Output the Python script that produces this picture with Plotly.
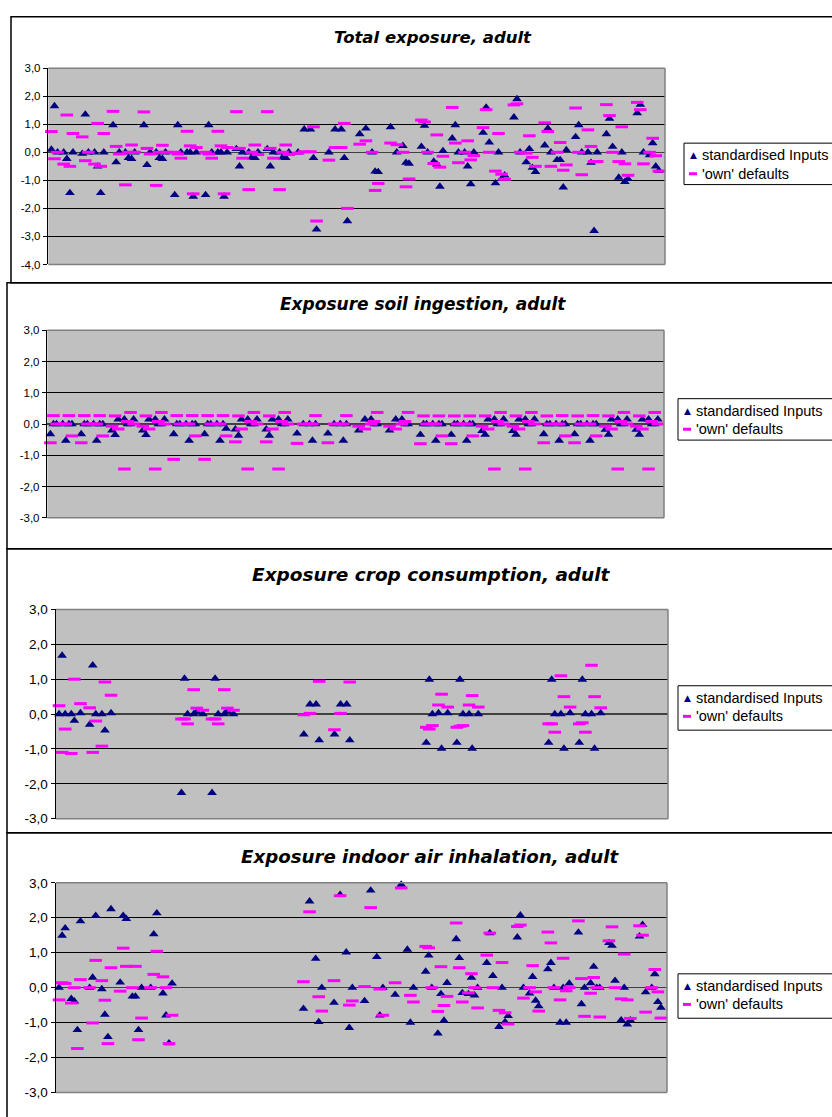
import plotly.graph_objects as go

W, H = 832, 1117
NAVY = "#000080"
MAG = "#FF00FF"

# ---------------- data ----------------
# run index (position along the category axis): 20 blocks of 10 positions
case = [0, 1, 2, 4, 5, 6, 7, 10, 11, 12, 14, 15, 16, 17,
        20, 21, 22, 24, 25, 26, 27, 30, 31, 32, 34, 35, 36, 37,
        40, 41, 42, 44, 45, 46, 47, 50, 51, 52, 54, 55, 56, 57,
        60, 61, 62, 64, 65, 66, 67, 70, 71, 72, 74, 75, 76, 77,
        80, 82, 84, 85, 86, 90, 92, 94, 95, 96,
        100, 102, 104, 105, 106, 110, 112, 114, 115, 116,
        120, 121, 122, 124, 125, 126, 127, 130, 131, 132, 134, 135, 136, 137,
        140, 141, 142, 144, 145, 146, 147, 150, 151, 152, 154, 155, 156, 157,
        160, 161, 162, 164, 165, 166, 167, 170, 171, 172, 174, 175, 176, 177,
        180, 181, 182, 184, 185, 186, 187, 190, 191, 192, 194, 195, 196, 197]

total_std = [0.1, 1.65, 0, 0, -0.23, -1.45, 0, -0.05, 1.35, 0, 0, -0.5, -1.45, 0,
             0.97, -0.35, 0, 0, -0.2, -0.23, 0, 0.97, -0.45, 0, 0, -0.2, -0.23, 0,
             -1.52, 0.97, 0, 0, 0, -1.58, 0, -1.52, 0.97, 0, 0, 0, -1.58, 0,
             0.12, -0.5, 0, 0, -0.18, -0.2, 0, 0.12, -0.5, 0, 0, -0.18, -0.2, 0,
             0, 0.82, 0.82, -0.2, -2.75, 0, 0.82, 0.82, -0.2, -2.45,
             0.65, 0.85, 0, -0.68, -0.7, 0.9, 0, 0.23, -0.37, -0.4,
             0.2, 0.95, 0, -0.33, -0.43, -1.22, 0.05, 0.5, 0.97, 0, 0, -0.5, -1.13, 0,
             0.7, 1.6, 0.35, -1.1, 0, -0.95, -0.82, 1.25, 1.9, 0, -0.35, 0.12, -0.55, -0.7,
             0.25, 0.85, 0, -0.27, -0.27, -1.25, 0.08, 0.55, 0.97, 0, 0, -0.37, -2.8, 0,
             0.65, 1.2, 0.2, -0.9, 0, -1.05, -0.95, 1.4, 1.7, 0, -0.1, 0.33, -0.5, -0.65]
total_own = [0.74, -0.23, 0, -0.42, 1.33, -0.5, 0.67, 0.55, -0.3, 0, -0.42, 1.03, -0.5, 0.67,
             1.46, 0.21, -0.06, -1.16, 0, 0.26, 0, 1.44, 0.14, -0.06, -1.18, 0, 0.25, 0,
             0, -0.06, -0.21, 0.75, 0.23, -1.48, 0.17, 0, -0.06, -0.21, 0.75, 0.23, -1.48, 0.17,
             1.45, 0.14, -0.21, -1.33, 0, 0.26, -0.08, 1.45, 0.14, -0.21, -1.33, 0, 0.26, -0.08,
             -0.03, 0.02, 0.02, 0.91, -2.45, -0.28, 0.17, 0.17, 1.03, -2.0,
             0.29, 0.41, 0, -1.36, -1.11, 0.33, 0.27, 0, -1.23, -0.95,
             1.15, 1.08, 0, -0.4, 0.62, -0.53, -0.14, 1.6, 0.33, -0.37, 0, 0.41, -0.27, -0.12,
             0.88, 1.52, 0, -0.67, 0.67, -0.78, -0.96, 1.69, 1.73, 0, -0.03, 0.59, -0.18, -0.5,
             1.05, 0.74, -0.5, 0, 0.35, -0.64, -0.45, 1.58, 0, -0.8, 0.8, 0.21, -0.33, -0.33,
             1.7, 1.31, 0, -0.33, 0.91, -0.41, -0.82, 1.78, 1.52, -0.41, 0, 0.5, -0.12, -0.67]

soil_std = [-0.32, 0, 0, 0, -0.53, 0, 0, -0.32, 0, 0, 0, -0.53, 0, 0,
            -0.2, -0.35, 0.15, 0.15, 0, 0, 0.15, -0.2, -0.35, 0.15, 0.15, 0, 0, 0.15,
            -0.32, 0, 0, 0, -0.53, 0, 0, -0.32, 0, 0, 0, -0.53, 0, -0.15,
            -0.17, -0.37, 0.15, 0.15, 0, 0, 0.15, -0.17, -0.37, 0.15, 0.15, 0, 0, 0.15,
            -0.3, 0, 0, -0.53, 0, -0.3, 0, 0, -0.53, 0,
            -0.2, 0.15, 0.15, 0, 0, -0.2, 0.15, 0.15, 0, 0,
            -0.34, 0, 0, 0, -0.53, 0, 0, -0.34, 0, 0, 0, -0.53, 0, 0,
            -0.22, -0.34, 0.15, 0.15, 0, 0, 0.15, -0.22, -0.34, 0.15, 0.15, 0, 0, 0.15,
            -0.32, 0, 0, 0, -0.53, 0, 0, -0.32, 0, 0, 0, -0.53, 0, 0,
            -0.18, -0.34, 0.15, 0.15, 0, 0, 0.15, -0.18, -0.34, 0.15, 0.15, 0, 0, 0.15]
soil_own = [-0.6, 0.27, 0, 0, 0, 0.27, -0.38, -0.6, 0.27, 0, 0, 0, 0.27, -0.38,
            -0.07, 0.26, -0.16, -1.44, 0.08, 0.37, 0, -0.07, 0.26, -0.16, -1.44, 0.08, 0.37, 0,
            -1.13, 0.27, 0, 0, 0, 0.27, -0.38, -1.13, 0.27, 0, 0, 0, 0.27, -0.38,
            -0.57, 0.26, -0.16, -1.44, 0.08, 0.37, 0, -0.57, 0.26, -0.16, -1.44, 0.08, 0.37, 0,
            -0.62, 0, 0, 0, 0.27, -0.6, 0, 0, 0, 0.27,
            -0.07, -0.16, 0, 0.08, 0.37, -0.07, -0.16, 0, 0.08, 0.37,
            -0.63, 0.26, 0, 0, 0, 0.26, -0.38, -0.63, 0.26, 0, 0, 0, 0.26, -0.38,
            -0.07, 0.26, -0.16, -1.44, 0.08, 0.37, 0, -0.07, 0.26, -0.16, -1.44, 0.08, 0.37, 0,
            -0.6, 0.26, 0, 0, 0, 0.27, -0.38, -0.6, 0.26, 0, 0, 0, 0.27, -0.38,
            -0.07, 0.26, -0.16, -1.44, 0.08, 0.37, 0, -0.07, 0.26, -0.16, -1.44, 0.08, 0.37, 0]

N = None
crop_std = [0, 1.68, 0, 0, -0.19, N, 0.03, -0.3, 1.4, 0, 0, -0.47, N, 0.03,
            N, N, N, N, N, N, N, N, N, N, N, N, N, N,
            -2.26, 1.02, 0, 0, 0.07, N, 0, -2.26, 1.02, 0, 0, 0.08, N, 0,
            N, N, N, N, N, N, N, N, N, N, N, N, N, N,
            -0.58, 0.28, 0.28, -0.75, N, -0.58, 0.28, 0.28, -0.75, N,
            N, N, N, N, N, N, N, N, N, N,
            -0.82, 0.99, 0, 0.03, -0.99, N, 0.03, -0.82, 0.99, 0, 0, -0.99, N, 0,
            N, N, N, N, N, N, N, N, N, N, N, N, N, N,
            -0.82, 0.99, 0, 0, -0.99, N, 0.03, -0.82, 0.99, 0, 0, -0.99, N, 0.03,
            N, N, N, N, N, N, N, N, N, N, N, N, N, N]
crop_own = [0.24, -1.1, -0.43, -1.13, 1.0, N, 0.3, 0.18, -1.1, -0.2, -0.92, 0.92, N, 0.54,
            N, N, N, N, N, N, N, N, N, N, N, N, N, N,
            -0.14, -0.14, -0.28, 0.7, 0.17, N, 0.11, -0.14, -0.14, -0.28, 0.7, 0.17, N, 0.11,
            N, N, N, N, N, N, N, N, N, N, N, N, N, N,
            -0.02, 0.02, N, 0.94, N, -0.45, 0.02, N, 0.92, N,
            N, N, N, N, N, N, N, N, N, N,
            -0.38, -0.43, -0.33, 0.26, 0.57, N, 0.2, -0.38, -0.35, -0.33, 0.26, 0.53, N, 0.2,
            N, N, N, N, N, N, N, N, N, N, N, N, N, N,
            -0.28, -0.28, -0.52, 1.1, 0.5, N, 0.2, -0.28, -0.25, -0.52, 1.4, 0.5, N, 0.18,
            N, N, N, N, N, N, N, N, N, N, N, N, N, N]

air_std = [0, 1.49, 1.7, -0.32, -0.39, -1.21, 1.9, 0, 0.29, 2.06, -0.04, -0.77, -1.41, 2.25,
           0.15, 2.06, 1.97, -0.25, -0.25, -1.21, 0, 0, 1.53, 2.13, -0.16, -0.79, -1.59, 0.12,
           N, N, N, N, N, N, N, N, N, N, N, N, N, N,
           N, N, N, N, N, N, N, N, N, N, N, N, N, N,
           -0.6, 2.47, 0.83, -0.98, 0, -0.43, 2.66, 1.01, -1.15, 0,
           -0.38, 2.78, 0.88, -0.79, 0, -0.2, 2.95, 1.09, -1.0, 0,
           0.46, 0.92, 0, -1.31, -0.18, -0.94, 0.14, 1.39, 0.85, -0.15, -0.18, 0.29, -0.22, 0,
           0.71, 1.56, 0.34, -1.12, 0, -0.98, -0.81, 1.44, 2.07, 0, -0.16, 0.31, -0.37, -0.53,
           0.53, 0.71, 0, -1.0, 0, -1.0, 0.12, 1.58, -0.47, 0, 0.13, 0.6, 0, 0,
           1.28, 1.2, 0.2, -0.93, 0, -1.05, -0.93, 1.47, 1.8, -0.13, 0, 0.39, -0.41, -0.57]
air_own = [-0.35, 0.14, 0.12, -0.44, 0, -1.74, 0.23, 0, -1.01, 0.78, 0.2, -0.36, -1.6, 0.57,
           -0.1, 1.13, 0.61, 0, 0.61, -1.49, -0.87, 0, 0.38, 1.04, 0.31, 0, -1.6, -0.79,
           N, N, N, N, N, N, N, N, N, N, N, N, N, N,
           N, N, N, N, N, N, N, N, N, N, N, N, N, N,
           0.17, 2.17, N, -0.26, -0.67, 0.2, 2.63, N, -0.5, -0.38,
           0.03, 2.29, N, -0.04, -0.79, 0.14, 2.85, N, -0.22, -0.41,
           1.18, 1.14, 0, -0.68, 0.6, -0.51, -0.25, 1.85, 0.57, -0.41, -0.15, 0.4, 0, -0.58,
           0.93, 1.56, 0, -0.65, 0.72, -0.72, -1.04, 1.75, 1.79, -0.3, 0, 0.63, -0.12, -0.67,
           1.59, 1.28, 0, -0.35, 0.84, -0.09, 0, 1.91, 0.26, -0.82, -0.16, 0.29, 0, -0.84,
           1.34, 1.74, 0, -0.32, 0.96, -0.35, -0.88, 1.77, 1.5, -0.7, 0, 0.52, -0.12, -0.87]

titles = ["Total exposure, adult", "Exposure soil ingestion, adult",
          "Exposure crop consumption, adult", "Exposure indoor air inhalation, adult"]
series_names = ["standardised Inputs", "'own' defaults"]
ticks_p1 = [3, 2, 1, 0, -1, -2, -3, -4]
ticks_p234 = [3, 2, 1, 0, -1, -2, -3]


def tick_text(vals):
    return [("%.1f" % v).replace(".", ",") for v in vals]


# ---------------- layout geometry (pixels) ----------------
panels = [
    dict(std=total_std, own=total_own, title=titles[0], ticks=ticks_p1,
         plot=(48.3, 62, 665, 261), frame=(11, 10, 845, 279.5),
         tpos=(433, 31), tsize=16.5, fsize=11.5, leg=(684, 138, 845, 180)),
    dict(std=soil_std, own=soil_own, title=titles[1], ticks=ticks_p234,
         plot=(47.3, 327.7, 664, 517.7), frame=(7, 279.5, 845, 549),
         tpos=(422.5, 301), tsize=17, fsize=11.5, leg=(678, 397, 845, 439)),
    dict(std=crop_std, own=crop_own, title=titles[2], ticks=ticks_p234,
         plot=(56, 610.7, 668, 822.7), frame=(7, 549, 845, 837),
         tpos=(431, 575), tsize=18.5, fsize=13.5, leg=(678, 688, 845, 733)),
    dict(std=air_std, own=air_own, title=titles[3], ticks=ticks_p234,
         plot=(56, 887.7, 667, 1100.3), frame=(7, 837, 845, 1130),
         tpos=(430, 861), tsize=18.2, fsize=13.5, leg=(678, 980, 845, 1025)),
]


def px(x):
    return x / W


def py(y):
    return 1 - y / H


fig = go.Figure()
shapes = []
annotations = []
layout = {}

for i, p in enumerate(panels):
    n = i + 1
    xa = "x" if n == 1 else "x%d" % n
    ya = "y" if n == 1 else "y%d" % n
    x0, y0, x1, y1 = p["plot"]

    fig.add_trace(go.Scatter(
        x=case, y=p["std"], mode="markers", xaxis=xa, yaxis=ya,
        name=series_names[0], showlegend=False, cliponaxis=False,
        marker=dict(symbol="triangle-up", size=8.5, color=NAVY, line=dict(width=0))))
    fig.add_trace(go.Scatter(
        x=case, y=p["own"], mode="markers", xaxis=xa, yaxis=ya,
        name=series_names[1], showlegend=False, cliponaxis=False,
        marker=dict(symbol="line-ew", size=9, color=MAG, line=dict(width=3, color=MAG))))

    layout["xaxis" if n == 1 else "xaxis%d" % n] = dict(
        domain=[px(x0), px(x1)], range=[-1, 199], anchor=ya, visible=False)
    tv = p["ticks"]
    layout["yaxis" if n == 1 else "yaxis%d" % n] = dict(
        domain=[py(y1), py(y0)], range=[min(tv), max(tv)], anchor=xa,
        tickmode="array", tickvals=tv, ticktext=tick_text(tv),
        showgrid=True, gridcolor="black", gridwidth=1,
        zeroline=True, zerolinecolor="#404040", zerolinewidth=1.5,
        showline=True, linecolor="black", linewidth=1.5,
        ticks="outside", ticklen=4, tickcolor="black", tickwidth=1,
        tickfont=dict(family="Liberation Sans, Arial", size=p["fsize"], color="black"))

    # plot-area border (grey) on top/right/bottom
    for (ax0, ay0, ax1, ay1) in [(0, 1, 1, 1), (1, 0, 1, 1), (0, 0, 1, 0)]:
        shapes.append(dict(type="line", xref=xa + " domain", yref=ya + " domain",
                           x0=ax0, y0=ay0, x1=ax1, y1=ay1,
                           line=dict(color="#808080", width=1.5), layer="above"))

    # chart frame
    fx0, fy0, fx1, fy1 = p["frame"]
    shapes.append(dict(type="rect", xref="paper", yref="paper",
                       x0=px(fx0), y0=py(fy1), x1=px(fx1), y1=py(fy0),
                       line=dict(color="#000000", width=1.5), layer="above"))

    # title
    tx, ty = p["tpos"]
    annotations.append(dict(xref="paper", yref="paper", x=px(tx), y=py(ty),
                            xanchor="center", yanchor="middle", showarrow=False,
                            text="<b><i>%s</i></b>" % p["title"],
                            font=dict(family="DejaVu Sans", size=p["tsize"], color="black")))

    # legend box
    lx0, ly0, lx1, ly1 = p["leg"]
    shapes.append(dict(type="rect", xref="paper", yref="paper",
                       x0=px(lx0), y0=py(ly1), x1=px(lx1), y1=py(ly0),
                       line=dict(color="black", width=1), fillcolor="white", layer="above"))
    r1 = ly0 + 12
    r2 = ly0 + 31
    annotations.append(dict(xref="paper", yref="paper", x=px(lx0 + 9), y=py(r1 + 0.5),
                            xanchor="center", yanchor="middle", showarrow=False,
                            text="▲", font=dict(family="DejaVu Sans", size=9, color=NAVY)))
    shapes.append(dict(type="line", xref="paper", yref="paper",
                       x0=px(lx0 + 5), x1=px(lx0 + 13), y0=py(r2), y1=py(r2),
                       line=dict(color=MAG, width=3), layer="above"))
    for rr, txt in [(r1, series_names[0]), (r2, series_names[1])]:
        annotations.append(dict(xref="paper", yref="paper", x=px(lx0 + 16), y=py(rr),
                                xanchor="left", yanchor="middle", showarrow=False,
                                text=txt, font=dict(family="Liberation Sans, Arial",
                                                    size=14.5, color="black")))

fig.update_layout(
    width=W, height=H, autosize=False,
    margin=dict(l=0, r=0, t=0, b=0, pad=0),
    paper_bgcolor="white", plot_bgcolor="#C0C0C0",
    showlegend=False, hovermode=False,
    shapes=shapes, annotations=annotations, **layout)

fig.write_html(
    "out.html",
    config={"displayModeBar": False, "staticPlot": True},
    post_script=("document.body.style.margin='0px';"
                 "document.body.style.padding='0px';"
                 "document.documentElement.style.overflow='hidden';"
                 "document.body.style.overflow='hidden';"))
